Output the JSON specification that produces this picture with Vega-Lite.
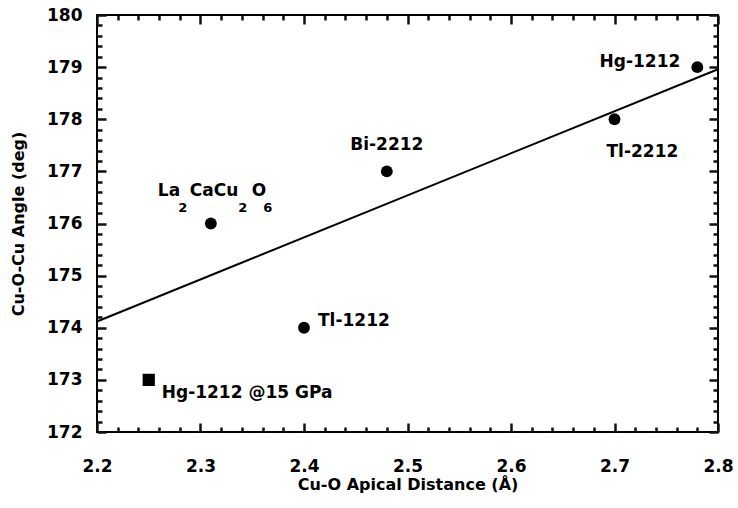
{
  "$schema": "https://vega.github.io/schema/vega-lite/v6.json",
  "width": 621,
  "height": 417,
  "autosize": "none",
  "padding": {"left": 97, "top": 15, "right": 20, "bottom": 76},
  "background": "white",
  "config": {
    "view": {"stroke": "black", "strokeWidth": 2},
    "font": "DejaVu Sans",
    "text": {"font": "DejaVu Sans", "fontSize": 17, "fontWeight": "bold", "color": "black"},
    "axis": {"domain": false,
             "labelFont": "DejaVu Sans", "labelFontSize": 17, "labelFontWeight": "bold", "labelColor": "black",
             "titleFont": "DejaVu Sans", "titleFontSize": 16, "titleFontWeight": "bold", "titleColor": "black"}
  },
  "datasets": {
    "pts": [
      {"dist": 2.31, "angle": 176, "compound": "La2CaCu2O6"},
      {"dist": 2.48, "angle": 177, "compound": "Bi-2212"},
      {"dist": 2.40, "angle": 174, "compound": "Tl-1212"},
      {"dist": 2.78, "angle": 179, "compound": "Hg-1212"},
      {"dist": 2.70, "angle": 178, "compound": "Tl-2212"}
    ],
    "sq": [
      {"dist": 2.25, "angle": 173, "compound": "Hg-1212 @15 GPa"}
    ],
    "fit": [
      {"dist": 2.2, "angle": 174.12},
      {"dist": 2.8, "angle": 178.96}
    ]
  },
  "layer": [
    {
      "data": {"name": "fit"},
      "mark": {"type": "line", "color": "black", "strokeWidth": 2},
      "encoding": {
        "x": {"field": "dist", "type": "quantitative", "scale": {"domain": [2.2, 2.8], "nice": false, "zero": false},
              "axis": {"orient": "bottom", "title": "Cu-O Apical Distance (Å)", "titlePadding": 2,
                       "values": [2.2, 2.3, 2.4, 2.5, 2.6, 2.7, 2.8], "format": ".1f",
                       "ticks": false, "grid": true, "gridDash": [9, 399], "gridColor": "#111111", "gridWidth": 2.5, "gridOpacity": 1,
                       "labelPadding": 26, "labelFlush": false, "labelOverlap": false}},
        "y": {"field": "angle", "type": "quantitative", "scale": {"domain": [172, 180], "nice": false, "zero": false},
              "axis": {"orient": "left", "title": "Cu-O-Cu Angle (deg)", "titlePadding": 20,
                       "values": [172, 173, 174, 175, 176, 177, 178, 179, 180], "format": "d",
                       "ticks": false, "grid": true, "gridDash": [9, 603], "gridColor": "#111111", "gridWidth": 2.5, "gridOpacity": 1,
                       "labelPadding": 15, "labelFlush": false, "labelOverlap": false}}
      }
    },
    {
      "data": {"name": "pts"},
      "mark": {"type": "point", "shape": "circle", "filled": true, "color": "black", "opacity": 1, "size": 140},
      "encoding": {
        "x": {"field": "dist", "type": "quantitative",
              "axis": {"orient": "top", "title": null, "labels": false, "ticks": false,
                       "grid": true, "gridDash": [5, 407], "gridColor": "#111111", "gridWidth": 2.5, "gridOpacity": 1,
                       "values": [2.22,2.24,2.26,2.28,2.32,2.34,2.36,2.38,2.42,2.44,2.46,2.48,2.52,2.54,2.56,2.58,2.62,2.64,2.66,2.68,2.72,2.74,2.76,2.78]}},
        "y": {"field": "angle", "type": "quantitative",
              "axis": {"orient": "right", "title": null, "labels": false, "ticks": false,
                       "grid": true, "gridDash": [5, 611], "gridColor": "#111111", "gridWidth": 2.5, "gridOpacity": 1,
                       "values": [172.2,172.4,172.6,172.8,173.2,173.4,173.6,173.8,174.2,174.4,174.6,174.8,175.2,175.4,175.6,175.8,176.2,176.4,176.6,176.8,177.2,177.4,177.6,177.8,178.2,178.4,178.6,178.8,179.2,179.4,179.6,179.8]}}
      }
    },
    {
      "data": {"name": "sq"},
      "mark": {"type": "point", "shape": "square", "filled": true, "color": "black", "opacity": 1, "size": 150},
      "encoding": {
        "x": {"field": "dist", "type": "quantitative", "axis": null},
        "y": {"field": "angle", "type": "quantitative", "axis": null}
      }
    },
    {
      "data": {"name": "sq"},
      "mark": {"type": "text", "align": "left", "baseline": "middle", "dx": 13, "dy": 13},
      "encoding": {
        "x": {"field": "dist", "type": "quantitative", "axis": null},
        "y": {"field": "angle", "type": "quantitative", "axis": null},
        "text": {"field": "compound"}
      }
    },
    {
      "data": {"name": "pts"},
      "transform": [{"filter": "datum.compound == 'Hg-1212'"}],
      "mark": {"type": "text", "align": "right", "baseline": "middle", "dx": -17, "dy": -5},
      "encoding": {
        "x": {"field": "dist", "type": "quantitative", "axis": null},
        "y": {"field": "angle", "type": "quantitative", "axis": null},
        "text": {"field": "compound"}
      }
    },
    {
      "data": {"name": "pts"},
      "transform": [{"filter": "datum.compound == 'Tl-2212'"}],
      "mark": {"type": "text", "align": "left", "baseline": "middle", "dx": -8, "dy": 33},
      "encoding": {
        "x": {"field": "dist", "type": "quantitative", "axis": null},
        "y": {"field": "angle", "type": "quantitative", "axis": null},
        "text": {"field": "compound"}
      }
    },
    {
      "data": {"name": "pts"},
      "transform": [{"filter": "datum.compound == 'Bi-2212'"}],
      "mark": {"type": "text", "align": "center", "baseline": "middle", "dx": 0, "dy": -26},
      "encoding": {
        "x": {"field": "dist", "type": "quantitative", "axis": null},
        "y": {"field": "angle", "type": "quantitative", "axis": null},
        "text": {"field": "compound"}
      }
    },
    {
      "data": {"name": "pts"},
      "transform": [{"filter": "datum.compound == 'Tl-1212'"}],
      "mark": {"type": "text", "align": "left", "baseline": "middle", "dx": 14, "dy": -7},
      "encoding": {
        "x": {"field": "dist", "type": "quantitative", "axis": null},
        "y": {"field": "angle", "type": "quantitative", "axis": null},
        "text": {"field": "compound"}
      }
    },
    {
      "data": {"name": "pts"},
      "transform": [{"filter": "datum.compound == 'La2CaCu2O6'"}],
      "mark": {"type": "text", "align": "left", "baseline": "middle", "dx": -53, "dy": -33},
      "encoding": {
        "x": {"field": "dist", "type": "quantitative", "axis": null},
        "y": {"field": "angle", "type": "quantitative", "axis": null},
        "text": {"value": "La"}
      }
    },
    {
      "data": {"name": "pts"},
      "transform": [{"filter": "datum.compound == 'La2CaCu2O6'"}],
      "mark": {"type": "text", "align": "center", "baseline": "middle", "dx": -28, "dy": -16, "fontSize": 13},
      "encoding": {
        "x": {"field": "dist", "type": "quantitative", "axis": null},
        "y": {"field": "angle", "type": "quantitative", "axis": null},
        "text": {"value": "2"}
      }
    },
    {
      "data": {"name": "pts"},
      "transform": [{"filter": "datum.compound == 'La2CaCu2O6'"}],
      "mark": {"type": "text", "align": "left", "baseline": "middle", "dx": -21, "dy": -33},
      "encoding": {
        "x": {"field": "dist", "type": "quantitative", "axis": null},
        "y": {"field": "angle", "type": "quantitative", "axis": null},
        "text": {"value": "CaCu"}
      }
    },
    {
      "data": {"name": "pts"},
      "transform": [{"filter": "datum.compound == 'La2CaCu2O6'"}],
      "mark": {"type": "text", "align": "center", "baseline": "middle", "dx": 32, "dy": -16, "fontSize": 13},
      "encoding": {
        "x": {"field": "dist", "type": "quantitative", "axis": null},
        "y": {"field": "angle", "type": "quantitative", "axis": null},
        "text": {"value": "2"}
      }
    },
    {
      "data": {"name": "pts"},
      "transform": [{"filter": "datum.compound == 'La2CaCu2O6'"}],
      "mark": {"type": "text", "align": "left", "baseline": "middle", "dx": 41, "dy": -33},
      "encoding": {
        "x": {"field": "dist", "type": "quantitative", "axis": null},
        "y": {"field": "angle", "type": "quantitative", "axis": null},
        "text": {"value": "O"}
      }
    },
    {
      "data": {"name": "pts"},
      "transform": [{"filter": "datum.compound == 'La2CaCu2O6'"}],
      "mark": {"type": "text", "align": "center", "baseline": "middle", "dx": 57, "dy": -16, "fontSize": 13},
      "encoding": {
        "x": {"field": "dist", "type": "quantitative", "axis": null},
        "y": {"field": "angle", "type": "quantitative", "axis": null},
        "text": {"value": "6"}
      }
    }
  ],
  "resolve": {"axis": {"x": "independent", "y": "independent"}}
}
